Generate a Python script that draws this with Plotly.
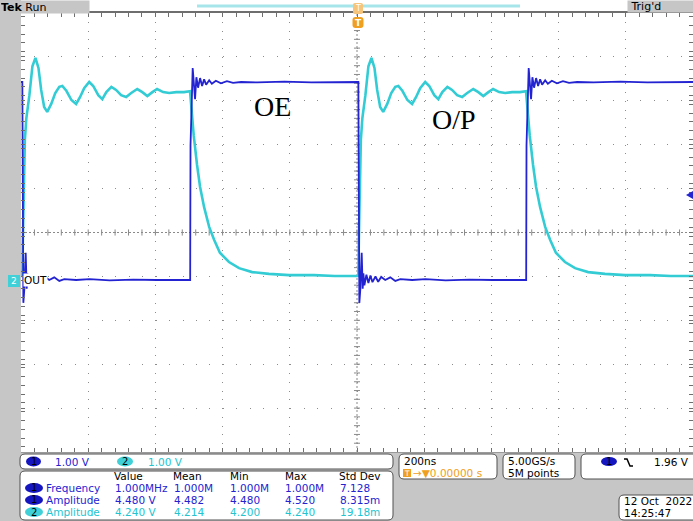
import plotly.graph_objects as go

PERIOD_NS = 1000          # 1.000 MHz
TRIG_NS = 4               # edge position relative to the centre graticule line

# channel 2 (cyan, O/P): one period, t in ns relative to the rising edge, volts
cyan_t = [0, 1.5, 4.5, 7.5, 12, 21, 30, 39, 48, 56, 65, 74, 86, 98, 110, 119, 131, 146,
          160, 172, 184, 199, 211, 226, 238, 250, 265, 279, 294, 309, 324, 342, 357, 372,
          387, 401, 419, 437, 458, 481, 499, 502, 505, 510, 514, 520, 529, 541, 556, 571,
          588, 615, 645, 684, 734, 794, 868, 930, 999]
cyan_v = [0.09, 0.91, 1.82, 3.19, 3.69, 4.21, 4.87, 5.06, 4.83, 4.33, 3.94, 3.83, 4.01,
          4.26, 4.40, 4.42, 4.31, 4.10, 4.01, 4.17, 4.37, 4.51, 4.42, 4.21, 4.12, 4.28,
          4.40, 4.33, 4.21, 4.17, 4.26, 4.35, 4.28, 4.19, 4.28, 4.35, 4.28, 4.26, 4.28,
          4.28, 4.30, 4.10, 3.76, 3.30, 2.96, 2.62, 2.12, 1.66, 1.21, 0.91, 0.62, 0.41,
          0.27, 0.18, 0.14, 0.11, 0.11, 0.09, 0.09]

# channel 1 (blue, OE): one period, t in ns relative to the falling edge, volts
blue_t = [0, 1.5, 3, 6, 10, 13, 15, 18, 24, 30, 36, 42, 51, 59, 68, 80, 95, 110, 125,
          160, 200, 260, 330, 400, 460, 499.5, 500.5, 507, 514, 518, 523, 529, 535, 541,
          547, 556, 564, 576, 591, 609, 627, 651, 700, 780, 860, 940, 999]
blue_v = [4.51, 2.00, -0.52, -0.20, 0.62, -0.20, 0.15, -0.12, 0.12, -0.07, 0.10, -0.05,
          0.08, -0.04, 0.07, 0.00, 0.06, -0.02, 0.02, 0.00, 0.02, -0.01, 0.01, 0.00, 0.01,
          0.00, 3.07, 4.83, 4.12, 4.62, 4.38, 4.60, 4.42, 4.57, 4.45, 4.55, 4.47, 4.54,
          4.48, 4.53, 4.49, 4.51, 4.50, 4.52, 4.50, 4.51, 4.51]

meas_header = ["Value", "Mean", "Min", "Max", "Std Dev"]
meas_rows = [
    ("1", "Frequency", ["1.000MHz", "1.000M", "1.000M", "1.000M", "7.128"]),
    ("1", "Amplitude", ["4.480 V", "4.482", "4.480", "4.520", "8.315m"]),
    ("2", "Amplitude", ["4.240 V", "4.214", "4.200", "4.240", "19.18m"]),
]

BLUE = "#2323d2"
CYAN = "#33ccd4"
CYAN_TXT = "#22c4d0"
GRAY = "#c6c6c6"
ORANGE = "#f0a020"
FONT = "DejaVu Sans"

# ---------------- geometry helpers (pixels -> paper) ----------------
W, H = 693, 521
L, R, T, B = 21, 693, 13, 452


def px(x):
    return (x - L) / (R - L)


def py(y):
    return (B - y) / (B - T)


def tile(ts, vs):
    X, Y = [], []
    for k in (-2, -1, 0):
        X += [t + TRIG_NS + k * PERIOD_NS for t in ts]
        Y += list(vs)
    return X, Y


fig = go.Figure()
cx, cy = tile(cyan_t, cyan_v)
bx, by = tile(blue_t, blue_v)
fig.add_trace(go.Scatter(x=cx, y=cy, mode="lines", line=dict(color=CYAN, width=2.6),
                         hoverinfo="skip", showlegend=False))
fig.add_trace(go.Scatter(x=bx, y=by, mode="lines", line=dict(color=BLUE, width=1.8),
                         hoverinfo="skip", showlegend=False))

# y axis in volts: both channels 1 V/div, ground 1.082 div below centre
YLO, YHI = -3.918, 6.082
YC = (YLO + YHI) / 2

shapes = []
ann = []


def rect(x0, y0, x1, y1, fill):
    p = (f"M {px(x0)},{py(y0)} L {px(x1)},{py(y0)} L {px(x1)},{py(y1)} "
         f"L {px(x0)},{py(y1)} Z")
    shapes.append(dict(type="path", xref="paper", yref="paper", path=p, fillcolor=fill,
                       line=dict(color=fill, width=0), layer="above"))


def rrect(x0, y0, x1, y1, r, fill="white", line="#505050", lw=1):
    p = (f"M {px(x0 + r)},{py(y0)} L {px(x1 - r)},{py(y0)} Q {px(x1)},{py(y0)} {px(x1)},{py(y0 + r)} "
         f"L {px(x1)},{py(y1 - r)} Q {px(x1)},{py(y1)} {px(x1 - r)},{py(y1)} "
         f"L {px(x0 + r)},{py(y1)} Q {px(x0)},{py(y1)} {px(x0)},{py(y1 - r)} "
         f"L {px(x0)},{py(y0 + r)} Q {px(x0)},{py(y0)} {px(x0 + r)},{py(y0)} Z")
    shapes.append(dict(type="path", xref="paper", yref="paper", path=p, fillcolor=fill,
                       line=dict(color=line, width=lw), layer="above"))


def oval(x0, y0, x1, y1, fill):
    shapes.append(dict(type="circle", xref="paper", yref="paper", x0=px(x0), x1=px(x1),
                       y0=py(y1), y1=py(y0), fillcolor=fill, line=dict(color=fill, width=0),
                       layer="above"))


def txt(x, y, s, color="black", size=10.5, anchor="left", family=FONT, bg=None):
    d = dict(x=px(x), y=py(y), xref="paper", yref="paper", text=s, showarrow=False,
             xanchor=anchor, yanchor="middle", borderpad=0,
             font=dict(family=family, size=size, color=color))
    if bg:
        d["bgcolor"] = bg
    ann.append(d)


def label_box(x0, y0, w, h, s, size=11):
    ann.append(dict(x=px(x0), y=py(y0), xref="paper", yref="paper", text=s,
                    showarrow=False, xanchor="left", yanchor="top", width=w, height=h,
                    align="left", valign="middle", bgcolor=GRAY, borderpad=0,
                    font=dict(family=FONT, size=size, color="black")))


# centre graticule lines and their ticks
shapes.append(dict(type="line", xref="x", yref="y", x0=-1000, x1=1000, y0=YC, y1=YC,
                   line=dict(color="#8a8a8a", width=1, dash="2px,2px"), layer="below"))
shapes.append(dict(type="line", xref="x", yref="y", x0=0, x1=0, y0=YLO, y1=YHI,
                   line=dict(color="#8a8a8a", width=1, dash="2px,2px"), layer="below"))
for k in range(-24, 25):
    shapes.append(dict(type="line", xref="x", yref="y", x0=k * 40, x1=k * 40,
                       y0=YC - 0.07, y1=YC + 0.07, line=dict(color="#8a8a8a", width=1),
                       layer="below"))
for j in range(1, 50):
    yy = YLO + j * 0.2
    shapes.append(dict(type="line", xref="x", yref="y", x0=-9, x1=9, y0=yy, y1=yy,
                       line=dict(color="#8a8a8a", width=1), layer="below"))

# frame pieces
rect(0, 0, 21, 521, GRAY)
rect(0, 452.5, 693, 521, GRAY)
label_box(0, 0, 88, 12, "<b>Tek</b> Run", size=11)
label_box(627, 0, 70, 11, " Trig'd", size=11)
shapes.append(dict(type="line", xref="paper", yref="paper", x0=px(197), x1=px(520),
                   y0=py(6), y1=py(6), line=dict(color="#a6e6ea", width=3), layer="above"))
rrect(353, 3, 363, 14, 2, fill="#f6c47a", line="#f6c47a", lw=0)
txt(358, 8.5, "T", color="white", size=8, anchor="center")
rrect(352.5, 17, 363.5, 28, 3, fill=ORANGE, line=ORANGE, lw=0)
txt(358, 22.5, "<b>T</b>", color="white", size=9, anchor="center")
# channel 2 ground marker
rect(8, 275, 20, 287, "#3fd0d8")
txt(14, 281, "2", color="white", size=9, anchor="center")
txt(23, 280, "OUT", size=10.5, bg="white")
# trigger level marker (right edge)
shapes.append(dict(type="path", xref="paper", yref="paper",
                   path=f"M {px(686)},{py(195)} L {px(693)},{py(191)} L {px(693)},{py(199)} Z",
                   fillcolor=BLUE, line=dict(color=BLUE, width=0), layer="above"))

# annotations on the traces
txt(272, 106, "OE", size=28, anchor="center", family="Liberation Serif")
txt(454, 120, "O/P", size=28, anchor="center", family="Liberation Serif")

# bottom readout boxes
rrect(20, 454, 393, 469, 5)
oval(26, 456.5, 41, 466.5, "#1616c0")
txt(33.5, 461.5, "1", size=10, anchor="center")
txt(54, 461.5, "1.00 V", color=BLUE)
oval(117, 456.5, 133, 466.5, "#3fd0d8")
txt(125, 461.5, "2", size=10, anchor="center")
txt(147, 461.5, "1.00 V", color=CYAN_TXT)

rrect(20, 471, 393, 520, 5)
hdr_x = [113, 172, 229, 284, 338]
val_x = [114, 173, 229, 284, 339]
for s, xx in zip(meas_header, hdr_x):
    txt(xx, 476, s)
for i, (ch, name, vals) in enumerate(meas_rows):
    yy = 488 + i * 12
    col = BLUE if ch == "1" else CYAN_TXT
    oval(25, yy - 5, 43, yy + 5, "#1616c0" if ch == "1" else "#3fd0d8")
    txt(34, yy, ch, size=10, anchor="center")
    txt(45, yy, name, color=col)
    for v, xx in zip(vals, val_x):
        txt(xx, yy, v, color=col)

rrect(399, 454, 497, 479, 5)
txt(403, 461, "200ns")
rect(403, 469, 411, 477, ORANGE)
txt(407, 473, "T", color="white", size=7.5, anchor="center")
txt(412, 473, "→▼0.00000 s", color=ORANGE)

rrect(503, 454, 575, 479, 5)
txt(507, 461, "5.00GS/s")
txt(507, 473, "5M points")

rrect(581, 454, 700, 479, 5)
oval(601, 457, 617, 466, "#1616c0")
txt(609, 461.5, "1", size=10, anchor="center")
shapes.append(dict(type="path", xref="paper", yref="paper",
                   path=(f"M {px(624)},{py(459)} L {px(627)},{py(459)} L {px(630)},{py(466)} "
                         f"L {px(633)},{py(466)}"),
                   line=dict(color="black", width=1.5), layer="above"))
txt(653, 461.5, "1.96 V")

rrect(619, 495, 700, 520, 5)
txt(623, 501, "12 Oct  2022")
txt(623, 513, "14:25:47")

fig.update_layout(
    width=W, height=H,
    margin=dict(l=L, r=W - R, t=T, b=H - B, pad=0),
    paper_bgcolor="white", plot_bgcolor="white",
    showlegend=False,
    shapes=shapes, annotations=ann,
    xaxis=dict(range=[-1000, 1000], tick0=0, dtick=200, showgrid=True,
               gridcolor="#8c8c8c", gridwidth=1, griddash="1px,7.78px",
               showline=True, linecolor="#6e6e6e", linewidth=2, mirror="allticks",
               ticks="inside", ticklen=4, tickcolor="#6e6e6e",
               minor=dict(dtick=40, ticks="inside", ticklen=4, tickcolor="#6e6e6e",
                          showgrid=False),
               showticklabels=False, zeroline=False),
    yaxis=dict(range=[YLO, YHI], tick0=YC, dtick=1, showgrid=True,
               gridcolor="#8c8c8c", gridwidth=1, griddash="1px,12.46px",
               showline=True, linecolor="#6e6e6e", linewidth=1, mirror="allticks",
               ticks="inside", ticklen=4, tickcolor="#6e6e6e",
               minor=dict(dtick=0.2, ticks="inside", ticklen=4, tickcolor="#6e6e6e",
                          showgrid=False),
               showticklabels=False, zeroline=False),
)

fig.write_html("out.html", config={"displayModeBar": False},
               post_script="document.body.style.margin='0';document.body.style.padding='0';")
